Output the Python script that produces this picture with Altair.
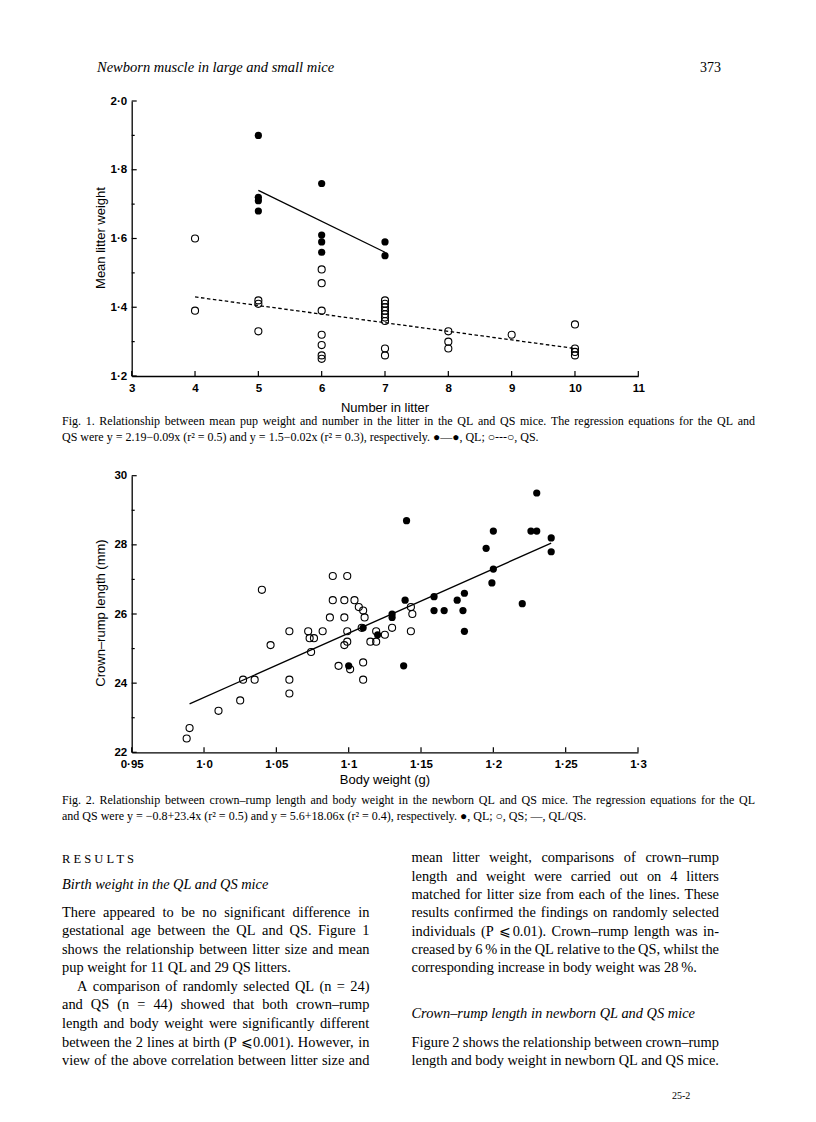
import altair as alt
import pandas as pd

# ---------------- Fig. 1 data (number in litter vs mean litter weight) ----------------
ql_litter = [5, 5, 5, 5, 6, 6, 6, 6, 7, 7]
ql_weight = [1.90, 1.72, 1.71, 1.68, 1.76, 1.61, 1.59, 1.56, 1.59, 1.55]
qs_litter = [4, 4, 5, 5, 5, 6, 6, 6, 6, 6, 6, 6, 7, 7, 7, 7, 7, 7, 7, 7, 7,
             8, 8, 8, 9, 10, 10, 10, 10]
qs_weight = [1.60, 1.39, 1.42, 1.41, 1.33, 1.51, 1.47, 1.39, 1.32, 1.29, 1.26, 1.25,
             1.42, 1.41, 1.40, 1.39, 1.38, 1.37, 1.36, 1.28, 1.26,
             1.33, 1.30, 1.28, 1.32, 1.35, 1.28, 1.27, 1.26]
ql_fit_litter = [5, 7]
ql_fit_weight = [1.74, 1.56]
qs_fit_litter = [4, 10]
qs_fit_weight = [1.43, 1.28]
f1_x_ticks = [3, 4, 5, 6, 7, 8, 9, 10, 11]
f1_y_major = [1.2, 1.4, 1.6, 1.8, 2.0]
f1_y_minor = [1.3, 1.5, 1.7, 1.9]

# ---------------- Fig. 2 data (body weight vs crown-rump length) ----------------
qs_bw = [0.988, 0.990, 1.010, 1.025, 1.027, 1.035, 1.040, 1.046, 1.059, 1.059, 1.059,
         1.072, 1.073, 1.076, 1.074, 1.082, 1.087, 1.089, 1.089, 1.093, 1.097, 1.097,
         1.097, 1.099, 1.099, 1.099, 1.101, 1.104, 1.107, 1.110, 1.111, 1.109, 1.110,
         1.110, 1.115, 1.119, 1.119, 1.125, 1.130, 1.143, 1.144, 1.143]
qs_crl = [22.4, 22.7, 23.2, 23.5, 24.1, 24.1, 26.7, 25.1, 25.5, 24.1, 23.7,
          25.5, 25.3, 25.3, 24.9, 25.5, 25.9, 27.1, 26.4, 24.5, 26.4, 25.9,
          25.1, 27.1, 25.5, 25.2, 24.4, 26.4, 26.2, 26.1, 25.9, 25.6, 24.6,
          24.1, 25.2, 25.2, 25.5, 25.4, 25.6, 26.2, 26.0, 25.5]
ql_bw = [1.100, 1.110, 1.120, 1.130, 1.130, 1.139, 1.138, 1.140, 1.159, 1.159, 1.166,
         1.175, 1.180, 1.179, 1.180, 1.195, 1.200, 1.200, 1.199, 1.220, 1.226, 1.230,
         1.230, 1.240, 1.240]
ql_crl = [24.5, 25.6, 25.4, 26.0, 25.9, 26.4, 24.5, 28.7, 26.5, 26.1, 26.1,
          26.4, 26.6, 26.1, 25.5, 27.9, 28.4, 27.3, 26.9, 26.3, 28.4, 28.4,
          29.5, 28.2, 27.8]
fit_bw = [0.99, 1.24]
fit_crl = [23.4, 28.05]
f2_x_ticks = [0.95, 1.0, 1.05, 1.1, 1.15, 1.2, 1.25, 1.3]
f2_y_major = [22, 24, 26, 28, 30]
f2_y_minor = [23, 25, 27, 29]

# ---------------- page text ----------------
header_left = "Newborn muscle in large and small mice"
header_right = "373"
fig1_xtitle = "Number in litter"
fig1_ytitle = "Mean litter weight"
fig2_xtitle = "Body weight (g)"
fig2_ytitle = "Crown–rump length (mm)"
fig1_caption = [
    "Fig. 1. Relationship between mean pup weight and number in the litter in the QL and QS mice. The regression equations for the QL and",
    "QS were y = 2.19−0.09x (r² = 0.5) and y = 1.5−0.02x (r² = 0.3), respectively. ●—●, QL; ○---○, QS.",
]
fig2_caption = [
    "Fig. 2. Relationship between crown–rump length and body weight in the newborn QL and QS mice. The regression equations for the QL",
    "and QS were y = −0.8+23.4x (r² = 0.5) and y = 5.6+18.06x (r² = 0.4), respectively. ●, QL; ○, QS; —, QL/QS.",
]
section_title = "R E S U L T S"
left_heading = "Birth weight in the QL and QS mice"
left_lines = [
    "There appeared to be no significant difference in",
    "gestational age between the QL and QS. Figure 1",
    "shows the relationship between litter size and mean",
    "pup weight for 11 QL and 29 QS litters.",
    "A comparison of randomly selected QL (n = 24)",
    "and QS (n = 44) showed that both crown–rump",
    "length and body weight were significantly different",
    "between the 2 lines at birth (P ⩽ 0.001). However, in",
    "view of the above correlation between litter size and",
]
right_lines = [
    "mean litter weight, comparisons of crown–rump",
    "length and weight were carried out on 4 litters",
    "matched for litter size from each of the lines. These",
    "results confirmed the findings on randomly selected",
    "individuals (P ⩽ 0.01). Crown–rump length was in-",
    "creased by 6\u2009% in the QL relative to the QS, whilst the",
    "corresponding increase in body weight was 28\u2009%.",
]
right_heading = "Crown–rump length in newborn QL and QS mice"
right_lines2 = [
    "Figure 2 shows the relationship between crown–rump",
    "length and body weight in newborn QL and QS mice.",
]
footer = "25-2"

# ---------------- layout ----------------
W, H = 800, 1106
SANS = "Liberation Sans, Arial, Helvetica, sans-serif"
SERIF = "Liberation Serif, Times New Roman, serif"


def p(v):
    return v - 8  # page pixel -> chart pixel


F1X = [p(131.7), p(638.3)]
F1Y = [p(376.0), p(101.0)]
F2X = [p(131.7), p(638.0)]
F2Y = [p(752.3), p(475.7)]

axis_common = dict(grid=False, ticks=False, tickSize=0, domainColor="black",
                   domainWidth=1.3, labelColor="black", labelFont=SANS,
                   labelFontSize=11.5, labelFontWeight="bold", labelFlush=False,
                   labelOverlap=False, title=None)

f1_xs = alt.Scale(domain=[3, 11], range=F1X, nice=False, zero=False)
f1_ys = alt.Scale(domain=[1.2, 2.0], range=F1Y, nice=False, zero=False)
f1_xa = alt.Axis(orient="bottom", offset=F1Y[0] - H, values=f1_x_ticks,
                 labelPadding=6, format="d", **axis_common)
f1_ya = alt.Axis(orient="left", offset=-F1X[0], values=f1_y_major, labelPadding=5,
                 labelExpr="replace(format(datum.value, '.1f'), '.', '·')", **axis_common)

f2_xs = alt.Scale(domain=[0.95, 1.3], range=F2X, nice=False, zero=False)
f2_ys = alt.Scale(domain=[22, 30], range=F2Y, nice=False, zero=False)
f2_xa = alt.Axis(orient="bottom", offset=F2Y[0] - H, values=f2_x_ticks, labelPadding=6,
                 labelExpr="abs(datum.value - 1) < 0.001 ? '1·0' : replace(format(datum.value, '.2~f'), '.', '·')",
                 **axis_common)
f2_ya = alt.Axis(orient="left", offset=-F2X[0], values=f2_y_major, labelPadding=5,
                 format="d", **axis_common)


def scatter(xs, ys, xsc, ysc, xa, ya, filled):
    df = pd.DataFrame({"x": xs, "y": ys})
    if filled:
        mk = alt.Chart(df).mark_circle(size=52, color="black", opacity=1)
    else:
        mk = alt.Chart(df).mark_point(shape="circle", filled=False, size=50,
                                      stroke="black", strokeWidth=1.1, opacity=1)
    return mk.encode(x=alt.X("x:Q", scale=xsc, axis=xa), y=alt.Y("y:Q", scale=ysc, axis=ya))


def fit(xs, ys, xsc, ysc, xa, ya, dash=None):
    df = pd.DataFrame({"x": xs, "y": ys})
    kw = dict(color="black", strokeWidth=1.3)
    if dash:
        kw["strokeDash"] = dash
    return alt.Chart(df).mark_line(**kw).encode(
        x=alt.X("x:Q", scale=xsc, axis=xa), y=alt.Y("y:Q", scale=ysc, axis=ya))


def yticks(vals, ysc, ya, x0, length):
    df = pd.DataFrame({"v": vals})
    return alt.Chart(df).mark_rule(color="black", strokeWidth=1.2).encode(
        y=alt.Y("v:Q", scale=ysc, axis=ya), x=alt.value(x0), x2=alt.value(x0 + length))


def xticks(vals, xsc, xa, y0, length):
    df = pd.DataFrame({"v": vals})
    return alt.Chart(df).mark_rule(color="black", strokeWidth=1.2).encode(
        x=alt.X("v:Q", scale=xsc, axis=xa), y=alt.value(y0), y2=alt.value(y0 - length))


fig1 = alt.layer(
    scatter(qs_litter, qs_weight, f1_xs, f1_ys, f1_xa, f1_ya, False),
    scatter(ql_litter, ql_weight, f1_xs, f1_ys, f1_xa, f1_ya, True),
    fit(ql_fit_litter, ql_fit_weight, f1_xs, f1_ys, f1_xa, f1_ya),
    fit(qs_fit_litter, qs_fit_weight, f1_xs, f1_ys, f1_xa, f1_ya, dash=[3.5, 2.5]),
    yticks(f1_y_major, f1_ys, f1_ya, F1X[0], 5),
    yticks(f1_y_minor, f1_ys, f1_ya, F1X[0], 3),
    xticks(f1_x_ticks, f1_xs, f1_xa, F1Y[0], 5),
)

fig2 = alt.layer(
    scatter(qs_bw, qs_crl, f2_xs, f2_ys, f2_xa, f2_ya, False),
    scatter(ql_bw, ql_crl, f2_xs, f2_ys, f2_xa, f2_ya, True),
    fit(fit_bw, fit_crl, f2_xs, f2_ys, f2_xa, f2_ya),
    yticks(f2_y_major, f2_ys, f2_ya, F2X[0], 5),
    yticks(f2_y_minor, f2_ys, f2_ya, F2X[0], 3),
    xticks(f2_x_ticks, f2_xs, f2_xa, F2Y[0], 5),
)

# ---- approximate Times (Liberation Serif) advance widths, per 1000 em ----
TW = {" ": 250, "!": 333, "%": 833, "(": 333, ")": 333, "+": 564, ",": 250, "-": 333,
      ".": 250, "/": 278, ":": 278, ";": 278, "=": 564, "?": 444, "–": 500, "—": 1000,
      "−": 564, "⩽": 564, "²": 300, "●": 600, "○": 600, "\u2009": 167,
      "A": 722, "B": 667, "C": 667, "D": 722, "E": 611, "F": 556, "G": 722, "H": 722,
      "I": 333, "J": 389, "K": 722, "L": 611, "M": 889, "N": 722, "O": 722, "P": 556,
      "Q": 722, "R": 667, "S": 556, "T": 611, "U": 722, "V": 722, "W": 944, "X": 722,
      "Y": 722, "Z": 611, "a": 444, "b": 500, "c": 444, "d": 500, "e": 444, "f": 333,
      "g": 500, "h": 500, "i": 278, "j": 278, "k": 500, "l": 278, "m": 778, "n": 500,
      "o": 500, "p": 500, "q": 500, "r": 333, "s": 389, "t": 278, "u": 500, "v": 500,
      "w": 722, "x": 500, "y": 500, "z": 444}


def tw(s, size):
    return sum(TW.get(c, 500) for c in s) * size / 1000.0


def justify_rows(line, x0, x1, y, size):
    words = line.split(" ")
    total = sum(tw(w, size) for w in words)
    gap = (x1 - x0 - total) / max(len(words) - 1, 1)
    rows, x = [], x0
    for w in words:
        rows.append((w, x, y))
        x += tw(w, size) + gap
    return rows


def block_rows(lines, x0, x1, y0, dy, size, justify, indent=None):
    rows = []
    for i, s in enumerate(lines):
        xs = x0 + (indent.get(i, 0) if indent else 0)
        y = y0 + i * dy
        if justify[i]:
            rows += justify_rows(s, xs, x1, y, size)
        else:
            rows.append((s, xs, y))
    return rows


def text_layer(rows, font, size, style="normal", align="left", angle=0, weight="normal"):
    df = pd.DataFrame(rows, columns=["t", "px", "py"])
    return alt.Chart(df).mark_text(align=align, baseline="middle", font=font,
                                   fontSize=size, fontStyle=style, fontWeight=weight,
                                   angle=angle, color="black").encode(
        x=alt.X("px:Q", scale=None, axis=None),
        y=alt.Y("py:Q", scale=None, axis=None),
        text="t:N")


BODY = 14.4
CAP = 12
LX0, LX1 = p(62), p(369.5)
RX0, RX1 = p(411.5), p(719)

caption_rows = (block_rows(fig1_caption, p(62), p(755), p(421), 16, CAP, [True, False]) +
                block_rows(fig2_caption, p(62), p(755), p(800), 16, CAP, [True, False]))
body_rows = (block_rows(left_lines, LX0, LX1, p(912.7), 18.55, BODY,
                        [True, True, True, False, True, True, True, True, True], indent={4: 15}) +
             block_rows(right_lines, RX0, RX1, p(858.3), 18.35, BODY,
                        [True, True, True, True, True, True, False]) +
             block_rows(right_lines2, RX0, RX1, p(1042.7), 18.0, BODY, [True, True]))

texts = [
    text_layer([(header_left, p(97), p(68))], SERIF, 14.5, style="italic"),
    text_layer([(header_right, p(721), p(68))], SERIF, 14, align="right"),
    text_layer([(fig1_xtitle, p(385), p(408)), (fig2_xtitle, p(385), p(780))], SANS, 13,
               align="center"),
    text_layer([(fig1_ytitle, p(101), p(238)), (fig2_ytitle, p(101), p(613))], SANS, 13,
               align="center", angle=270),
    text_layer(caption_rows, SERIF, CAP),
    text_layer([(section_title, p(62), p(859))], SERIF, 12.5),
    text_layer([(left_heading, LX0, p(885)), (right_heading, RX0, p(1014))], SERIF, BODY,
               style="italic"),
    text_layer(body_rows, SERIF, BODY),
    text_layer([(footer, p(672), p(1096))], SERIF, 10),
]

chart = alt.layer(fig1, fig2, *texts).resolve_scale(
    x="independent", y="independent"
).properties(
    width=W, height=H, padding=0, autosize=alt.AutoSizeParams(type="none"),
    background="white"
).configure_view(strokeWidth=0)

chart.save("out.html", embed_options={"renderer": "svg", "actions": False})
